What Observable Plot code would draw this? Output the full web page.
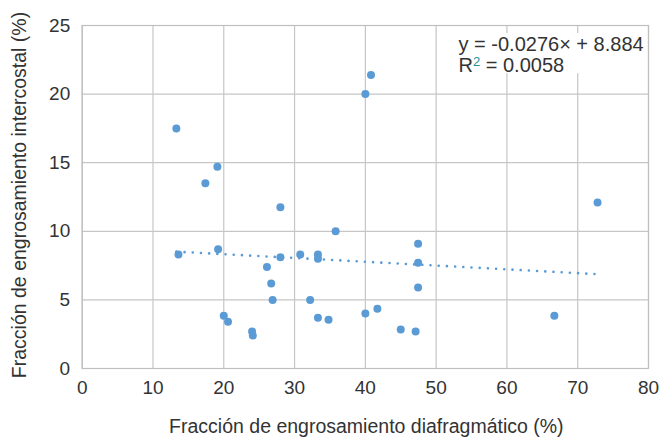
<!DOCTYPE html>
<html><head><meta charset="utf-8">
<script src="https://cdn.jsdelivr.net/npm/d3@7"></script>
<script src="https://cdn.jsdelivr.net/npm/@observablehq/plot@0.6"></script>
<style>body{margin:0;background:#fff;}</style>
</head><body>
<script>
// Data
const diafragma   = [13.3, 19.1, 17.4, 40.0, 40.8, 28.0, 35.8, 13.6, 19.2, 28.0, 30.8, 33.3, 33.3, 26.1, 26.7, 26.9, 32.2, 20.0, 20.6, 24.0, 24.1, 33.3, 34.8, 40.0, 41.7, 72.8, 47.45, 47.45, 47.45, 45.0, 47.1, 66.7];
const intercostal = [17.5, 14.7, 13.5, 20.0, 21.4, 11.75, 10.0, 8.3, 8.7, 8.1, 8.3, 8.3, 8.0, 7.4, 6.2, 5.0, 5.0, 3.85, 3.4, 2.7, 2.4, 3.7, 3.55, 4.0, 4.35, 12.1, 9.1, 7.7, 5.9, 2.85, 2.7, 3.85];
const xTicks = [0, 10, 20, 30, 40, 50, 60, 70, 80];
const yTicks = [0, 5, 10, 15, 20, 25];
const slope = -0.0276;
const intercept = 8.884;
const eqLine = "y = -0.0276× + 8.884";
const r2Text = ["R", "2", " = 0.0058"];
const xLabel = "Fracción de engrosamiento diafragmático (%)";
const yLabel = "Fracción de engrosamiento intercostal (%)";

const pts = diafragma.map((x, i) => ({x, y: intercostal[i]}));
const trend = d3.extent(diafragma).map(x => ({x, y: slope * x + intercept}));
const font = '"Liberation Sans", Arial, Helvetica, sans-serif';
const ink = "#333";
const blue = "#5B9BD5";
const r2Label = r2Text.join("");

const svg = Plot.plot({
  width: 662, height: 437,
  marginLeft: 81.7, marginRight: 14, marginTop: 25, marginBottom: 69,
  style: {fontFamily: font, fontSize: "19px", color: ink, background: "#fff", overflow: "visible"},
  x: {domain: [0, 80]},
  y: {domain: [0, 25]},
  marks: [
    Plot.gridX(xTicks, {stroke: "#c6c6c6", strokeOpacity: 1, strokeWidth: 1.2}),
    Plot.gridY(yTicks, {stroke: "#c6c6c6", strokeOpacity: 1, strokeWidth: 1.2}),
    Plot.frame({stroke: "#bfbfbf", strokeWidth: 1.2}),
    Plot.axisX(xTicks, {tickSize: 0, tickPadding: 12, label: null, fontSize: 19}),
    Plot.axisY(yTicks, {tickSize: 0, tickPadding: 12, label: null, fontSize: 19}),
    Plot.line(trend, {x: "x", y: "y", stroke: blue, strokeWidth: 2.6, strokeDasharray: "0.01 8.2", strokeLinecap: "round"}),
    Plot.dot(pts, {x: "x", y: "y", r: 4, fill: blue}),
    Plot.text([xLabel], {text: d => d, frameAnchor: "bottom", textAnchor: "middle", lineAnchor: "middle", dy: 57.8, dx: 1, fontSize: 19.5}),
    Plot.text([yLabel], {text: d => d, frameAnchor: "left", textAnchor: "middle", lineAnchor: "middle", rotate: -90, dx: -62, dy: -2, fontSize: 19.5}),
    Plot.text([eqLine], {text: d => d, frameAnchor: "top-right", textAnchor: "start", lineAnchor: "middle", dx: -190, dy: 19.2, fontSize: 20}),
    Plot.text([r2Label], {text: d => d, frameAnchor: "top-right", textAnchor: "start", lineAnchor: "middle", dx: -190, dy: 40.3, fontSize: 20})
  ]
});
document.body.append(svg);

// Superscript "2" in teal
const r2El = d3.select(svg).selectAll("text").filter(function() { return this.textContent === r2Label; });
const eqEl = d3.select(svg).selectAll("text").filter(function() { return this.textContent === eqLine; });
r2El.text(null);
r2El.append("tspan").text(r2Text[0]);
r2El.append("tspan").attr("dy", -6.5).attr("font-size", 13).attr("fill", "#26909b").text(r2Text[1]);
r2El.append("tspan").attr("dy", 6.5).text(r2Text[2]);

// White label box behind equation
const b1 = eqEl.node().getBBox(), b2 = r2El.node().getBBox();
const m1 = eqEl.node().getCTM(), m2 = r2El.node().getCTM();
const x0 = Math.min(b1.x + m1.e, b2.x + m2.e) - 3;
const x1 = Math.max(b1.x + b1.width + m1.e, b2.x + b2.width + m2.e) + 2;
const y0 = Math.min(b1.y + m1.f, b2.y + m2.f);
const y1 = Math.max(b1.y + b1.height + m1.f, b2.y + b2.height + m2.f) - 3;
const svgCTM = svg.getScreenCTM();
const eqGroup = eqEl.node().parentNode;
d3.select(eqGroup.parentNode).insert("rect", () => eqGroup)
  .attr("x", x0 - svgCTM.e).attr("y", y0 - svgCTM.f)
  .attr("width", x1 - x0).attr("height", y1 - y0)
  .attr("fill", "#fff");
</script>
</body></html>
